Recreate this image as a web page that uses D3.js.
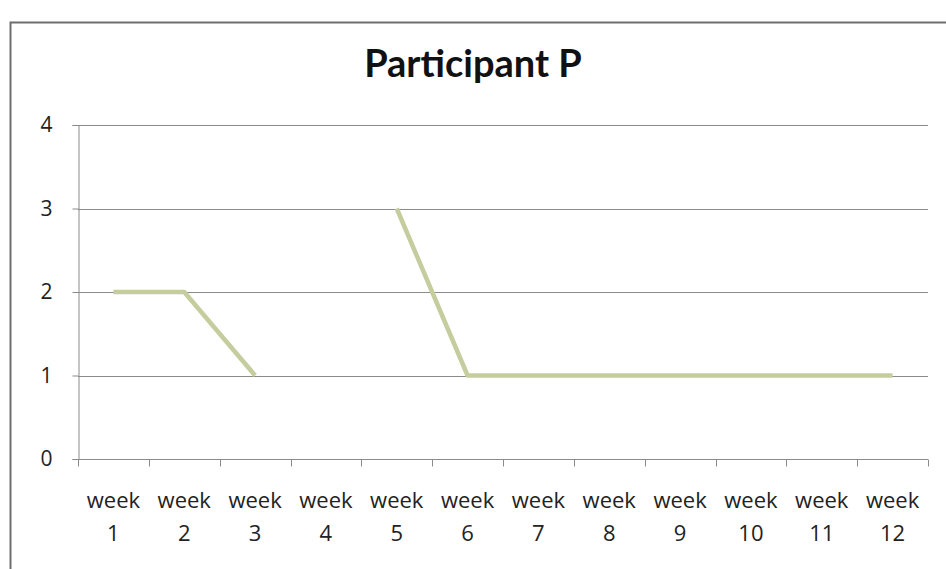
<!DOCTYPE html>
<html>
<head>
<meta charset="utf-8">
<script src="https://cdn.jsdelivr.net/npm/d3@7"></script>
<style>
  html, body { margin: 0; padding: 0; background: #fff; }
  svg { display: block; }
</style>
</head>
<body>
<svg id="chart" width="946" height="569"></svg>
<script>
// Weekly scores for participant P (week 4 has no recorded value)
const weeks = ["week 1", "week 2", "week 3", "week 4", "week 5", "week 6",
               "week 7", "week 8", "week 9", "week 10", "week 11", "week 12"];
const scores = [2, 2, 1, null, 3, 1, 1, 1, 1, 1, 1, 1];
const yTicks = [0, 1, 2, 3, 4];
const title = "Participant P";

const svg = d3.select("#chart");
const font = "'Open Sans', 'Liberation Sans', sans-serif";
const titleFont = "Lato, 'Open Sans', sans-serif";

// Outer chart frame (runs past the right and bottom edges)
svg.append("rect")
  .attr("x", 10.5).attr("y", 22.5)
  .attr("width", 1000).attr("height", 700)
  .attr("fill", "#fff")
  .attr("stroke", "#6e6e6e")
  .attr("stroke-width", 2);

const plot = { left: 78, right: 928, top: 125, bottom: 459 };

const x = d3.scaleBand().domain(weeks).range([plot.left, plot.right]);
const y = d3.scaleLinear().domain([0, 4]).range([plot.bottom, plot.top]);

// Horizontal gridlines
svg.append("g")
  .selectAll("line")
  .data(yTicks.filter(d => d > 0))
  .join("line")
  .attr("x1", plot.left).attr("x2", plot.right)
  .attr("y1", d => Math.round(y(d)) + 0.5).attr("y2", d => Math.round(y(d)) + 0.5)
  .attr("stroke", "#8a8a8a").attr("stroke-width", 1);

// Y axis
const yAxis = svg.append("g")
  .attr("transform", `translate(${plot.left + 0.5},0)`)
  .call(d3.axisLeft(y).tickValues(yTicks).tickFormat(d3.format("d")).tickSize(6).tickPadding(20));
yAxis.select(".domain").attr("stroke", "#8a8a8a");
yAxis.selectAll(".tick line").attr("stroke", "#8a8a8a");
yAxis.selectAll(".tick text")
  .attr("font-family", font).attr("font-size", 21).attr("fill", "#222");

// X axis with ticks at category boundaries
const xAxisG = svg.append("g")
  .attr("transform", `translate(0,${Math.round(plot.bottom) + 0.5})`);
xAxisG.append("line")
  .attr("x1", plot.left).attr("x2", plot.right)
  .attr("stroke", "#8a8a8a");
xAxisG.selectAll("line.tk")
  .data(weeks.concat(["end"]))
  .join("line")
  .attr("class", "tk")
  .attr("x1", (d, i) => Math.round(plot.left + i * x.step()) + 0.5)
  .attr("x2", (d, i) => Math.round(plot.left + i * x.step()) + 0.5)
  .attr("y1", 0).attr("y2", 7)
  .attr("stroke", "#8a8a8a");

// Two-line category labels
const lbl = xAxisG.selectAll("text.lbl")
  .data(weeks)
  .join("text")
  .attr("class", "lbl")
  .attr("x", d => x(d) + x.bandwidth() / 2)
  .attr("text-anchor", "middle")
  .attr("font-family", font).attr("font-size", 22).attr("fill", "#222");
lbl.append("tspan").attr("x", d => x(d) + x.bandwidth() / 2).attr("y", 48)
  .text(d => d.split(" ")[0]);
lbl.append("tspan").attr("x", d => x(d) + x.bandwidth() / 2).attr("y", 81)
  .text(d => d.split(" ")[1]);

// Score line, broken where a week is missing
const line = d3.line()
  .defined(d => d.v !== null)
  .x(d => x(d.w) + x.bandwidth() / 2)
  .y(d => y(d.v));
svg.append("path")
  .datum(weeks.map((w, i) => ({ w, v: scores[i] })))
  .attr("d", line)
  .attr("fill", "none")
  .attr("stroke", "#c5cc9d")
  .attr("stroke-width", 4.5)
  .attr("stroke-linejoin", "round");

// Title
svg.append("text")
  .attr("x", 473).attr("y", 77)
  .attr("text-anchor", "middle")
  .attr("font-family", titleFont).attr("font-weight", "bold")
  .attr("font-size", 38).attr("fill", "#111")
  .text(title);
</script>
</body>
</html>
